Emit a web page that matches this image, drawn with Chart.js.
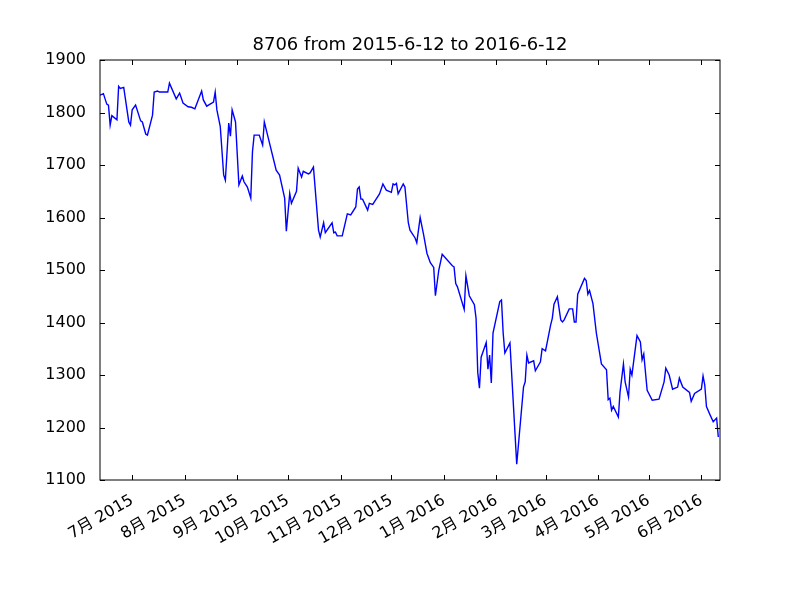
<!DOCTYPE html>
<html>
<head>
<meta charset="utf-8">
<script src="https://cdn.jsdelivr.net/npm/chart.js@4"></script>
<style>
  body { margin: 0; background: #fff; }
  #wrap { width: 800px; height: 600px; }
</style>
</head>
<body>
<div id="wrap"><canvas id="c" width="800" height="600"></canvas></div>
<script>
// days since 2015-6-12, and close prices
const days = [0,2,4,5,6,7,10,11,12,14,17,18,19,21,24,25,27,28,31,32,34,35,40,41,45,47,49,52,54,56,60,61,63,67,68,69,71,73,74,76,77,78,80,82,84,85,87,89,90,91,94,96,97,104,106,109,110,112,113,116,117,119,120,123,124,126,129,130,132,133,137,138,139,140,143,146,148,151,152,153,154,155,158,159,161,165,167,169,172,173,174,175,176,179,180,182,183,186,187,189,191,193,195,197,198,200,202,208,209,210,211,215,216,218,221,222,223,224,225,228,229,230,231,232,236,237,238,239,242,246,250,251,252,253,256,257,260,261,263,266,267,268,270,272,273,274,277,279,280,281,282,286,287,288,289,291,293,296,299,300,301,302,303,306,307,309,310,312,313,314,317,319,320,321,323,326,330,333,334,336,338,341,342,344,348,349,351,355,356,357,358,360,362,364,365];
const prices = [1833,1836,1816,1814,1776,1794,1786,1850,1846,1848,1782,1776,1805,1814,1784,1782,1759,1757,1795,1839,1841,1839,1839,1856,1826,1837,1818,1811,1810,1807,1841,1824,1812,1820,1839,1805,1773,1681,1671,1780,1755,1805,1782,1662,1679,1668,1658,1637,1725,1757,1757,1738,1782,1690,1681,1637,1574,1646,1627,1650,1694,1677,1688,1683,1685,1696,1576,1563,1590,1571,1590,1571,1572,1565,1565,1607,1605,1620,1654,1658,1635,1635,1614,1627,1625,1645,1664,1652,1648,1664,1662,1665,1645,1664,1658,1590,1576,1561,1552,1600,1568,1532,1514,1505,1451,1500,1530,1508,1506,1474,1468,1425,1489,1451,1434,1408,1305,1275,1334,1362,1311,1338,1285,1380,1440,1443,1380,1342,1361,1130,1277,1287,1338,1323,1327,1308,1325,1350,1346,1395,1408,1435,1449,1405,1401,1405,1426,1426,1401,1401,1454,1484,1480,1454,1461,1436,1380,1321,1310,1253,1256,1233,1240,1220,1268,1321,1287,1258,1311,1300,1375,1363,1329,1340,1271,1252,1254,1287,1313,1300,1273,1277,1294,1277,1267,1250,1265,1273,1298,1281,1240,1225,1211,1218,1182];
const tickDays = [19,50,81,111,142,172,203,234,263,294,324,355];
const tickLabels = ['7月 2015','8月 2015','9月 2015','10月 2015','11月 2015','12月 2015','1月 2016','2月 2016','3月 2016','4月 2016','5月 2016','6月 2016'];
const yTicks = [1100,1200,1300,1400,1500,1600,1700,1800,1900];
const titleText = '8706 from 2015-6-12 to 2016-6-12';

const font = "'DejaVu Sans', 'Noto Sans CJK SC', sans-serif";

// matplotlib style frame with inward ticks, title centred over the axes
const frame = {
  id: 'frame',
  afterDraw(chart) {
    const { ctx, chartArea: a, scales } = chart;
    ctx.save();
    ctx.strokeStyle = '#000';
    ctx.lineWidth = 1;
    ctx.strokeRect(a.left, a.top, a.right - a.left, a.bottom - a.top);
    ctx.beginPath();
    tickDays.forEach(d => {
      const x = Math.round(scales.x.getPixelForValue(d)) + 0.5;
      ctx.moveTo(x, a.bottom); ctx.lineTo(x, a.bottom - 5);
      ctx.moveTo(x, a.top); ctx.lineTo(x, a.top + 5);
    });
    yTicks.forEach(v => {
      const y = Math.round(scales.y.getPixelForValue(v)) + 0.5;
      ctx.moveTo(a.left, y); ctx.lineTo(a.left + 5, y);
      ctx.moveTo(a.right, y); ctx.lineTo(a.right - 5, y);
    });
    ctx.stroke();
    ctx.fillStyle = '#000';
    ctx.font = '18px ' + font;
    ctx.textAlign = 'center';
    ctx.textBaseline = 'bottom';
    ctx.fillText(titleText, (a.left + a.right) / 2, a.top - 6);
    ctx.restore();
  }
};

new Chart(document.getElementById('c'), {
  type: 'line',
  data: {
    datasets: [{
      data: days.map((d, i) => ({ x: d, y: prices[i] })),
      borderColor: '#0000ff',
      borderWidth: 1.4,
      pointRadius: 0,
      tension: 0,
      fill: false
    }]
  },
  options: {
    responsive: false,
    animation: false,
    layout: { padding: { left: 0, right: 80, top: 60, bottom: 0 } },
    plugins: {
      legend: { display: false },
      tooltip: { enabled: false },
      title: { display: false }
    },
    scales: {
      x: {
        type: 'linear',
        min: 0, max: 366,
        afterBuildTicks(s) { s.ticks = tickDays.map(v => ({ value: v })); },
        afterFit(s) { s.height = 120; },
        grid: { display: false },
        border: { display: false },
        ticks: {
          autoSkip: false,
          minRotation: 30, maxRotation: 30,
          color: '#000',
          font: { family: font, size: 16 },
          callback: (v) => tickLabels[tickDays.indexOf(v)]
        }
      },
      y: {
        min: 1100, max: 1900,
        afterBuildTicks(s) { s.ticks = yTicks.map(v => ({ value: v })); },
        afterFit(s) { s.width = 100; },
        grid: { display: false },
        border: { display: false },
        ticks: {
          color: '#000', padding: 6,
          font: { family: font, size: 16 },
          callback: (v) => String(v)
        }
      }
    }
  },
  plugins: [frame]
});
</script>
</body>
</html>
